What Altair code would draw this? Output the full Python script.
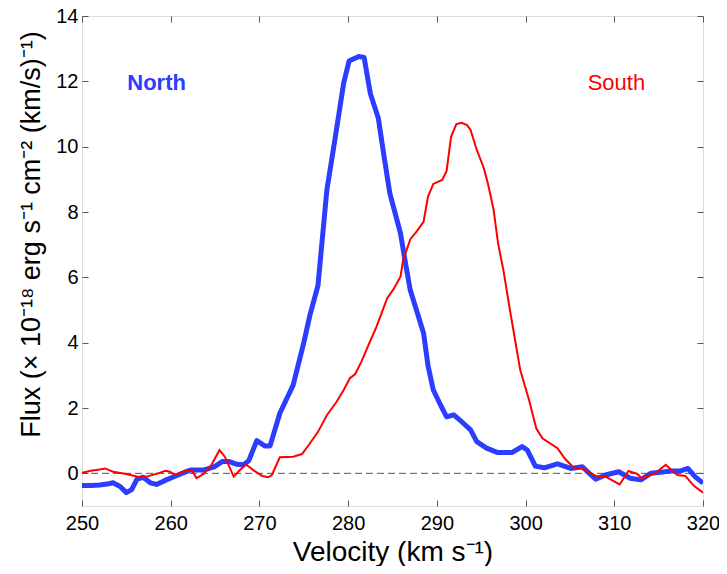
import altair as alt
import pandas as pd

# North (thick blue) spectrum
north_v = [250.0, 251.0, 252.0, 253.0, 253.5, 254.3, 255.0, 255.6, 256.2, 256.9,
           257.7, 258.4, 259.5, 261.1, 262.2, 263.7, 264.9, 265.8, 266.6, 267.4,
           268.2, 268.8, 269.7, 270.6, 271.2, 272.3, 273.8, 275.0, 275.7, 276.6,
           277.6, 278.5, 279.5, 280.1, 281.2, 281.8, 282.5, 283.4, 284.0, 284.7,
           285.9, 286.4, 287.0, 287.7, 288.5, 289.0, 289.6, 290.4, 291.1, 291.9,
           292.8, 293.8, 294.5, 295.6, 296.8, 298.5, 299.6, 300.2, 301.1, 302.1,
           303.6, 305.1, 306.4, 307.9, 309.0, 310.5, 311.8, 313.0, 314.1, 315.2,
           316.3, 317.4, 318.3, 319.1, 320.0]
north_f = [-0.37, -0.37, -0.36, -0.32, -0.29, -0.40, -0.59, -0.50, -0.18, -0.12,
           -0.29, -0.34, -0.20, -0.02, 0.10, 0.10, 0.20, 0.36, 0.36, 0.28,
           0.26, 0.39, 1.00, 0.84, 0.84, 1.84, 2.70, 4.00, 4.85, 5.75,
           8.67, 10.20, 11.95, 12.62, 12.76, 12.73, 11.63, 10.87, 9.79, 8.57,
           7.35, 6.53, 5.61, 5.00, 4.29, 3.30, 2.55, 2.10, 1.73, 1.79,
           1.58, 1.33, 0.97, 0.77, 0.64, 0.64, 0.82, 0.71, 0.22, 0.17,
           0.29, 0.15, 0.20, -0.18, -0.05, 0.05, -0.15, -0.20, 0.00, 0.03,
           0.07, 0.07, 0.15, -0.10, -0.30]

# South (thin red) spectrum
south_v = [250.0, 251.0, 252.0, 252.6, 253.5, 255.0, 256.5, 257.3, 258.6, 259.4,
           259.9, 260.5, 261.8, 262.4, 262.9, 263.7, 264.6, 265.5, 266.1, 267.1,
           267.8, 268.5, 269.3, 270.3, 271.0, 271.4, 272.3, 273.8, 274.8, 275.7,
           276.6, 277.6, 278.7, 279.5, 280.2, 280.8, 281.5, 282.3, 283.2, 284.4,
           285.1, 285.9, 286.2, 287.0, 287.7, 288.5, 289.0, 289.6, 290.6, 291.1,
           291.6, 292.2, 292.8, 293.4, 293.8, 294.5, 295.3, 295.8, 296.4, 296.9,
           297.5, 298.3, 299.4, 300.4, 301.2, 301.9, 303.6, 304.4, 305.5, 306.4,
           307.9, 309.0, 310.6, 311.6, 312.6, 313.1, 314.6, 315.8, 317.1, 318.0,
           319.0, 320.0]
south_f = [0.02, 0.08, 0.12, 0.15, 0.05, -0.02, -0.12, -0.10, 0.00, 0.08,
           0.05, -0.05, 0.10, 0.08, -0.15, -0.02, 0.26, 0.71, 0.51, -0.10,
           0.10, 0.27, 0.10, -0.08, -0.12, -0.05, 0.49, 0.51, 0.59, 0.92,
           1.27, 1.78, 2.19, 2.55, 2.91, 3.04, 3.42, 3.93, 4.49, 5.36,
           5.63, 6.02, 6.53, 7.16, 7.40, 7.70, 8.47, 8.86, 8.98, 9.26,
           10.30, 10.69, 10.73, 10.66, 10.51, 9.90, 9.34, 8.82, 8.06, 7.04,
           6.22, 4.90, 3.16, 2.24, 1.38, 1.07, 0.77, 0.46, 0.15, 0.15,
           -0.08, -0.10, -0.34, 0.07, -0.02, -0.15, 0.00, 0.26, -0.05, -0.08,
           -0.39, -0.59]

x_ticks = [250, 260, 270, 280, 290, 300, 310, 320]
y_ticks = [0, 2, 4, 6, 8, 10, 12, 14]

label_text = ["North", "South"]
label_v = [255.1, 307.0]
label_f = [11.95, 11.95]

BLUE = "#2b3dff"
RED = "#ff0000"
FONT = "Liberation Sans"

north = pd.DataFrame({"v": north_v, "f": north_f})
south = pd.DataFrame({"v": south_v, "f": south_f})
zero = pd.DataFrame({"f": [0]})

xs = alt.Scale(domain=[250, 320], nice=False, zero=False)
ys = alt.Scale(domain=[-1, 14], nice=False, zero=False)

x_bottom = alt.Axis(orient="bottom", values=x_ticks, offset=-6, tickSize=6,
                    domain=False, grid=False, tickColor="#555555",
                    labelFont=FONT, labelFontSize=20, labelColor="black",
                    labelPadding=7, labelFlush=False,
                    title="Velocity (km s\u207b\u00b9)",
                    titleFont=FONT, titleFontSize=28, titleFontWeight="normal",
                    titleColor="black", titlePadding=5)
y_left = alt.Axis(orient="left", values=y_ticks, offset=-6, tickSize=6,
                  domain=False, grid=False, tickColor="#555555",
                  labelFont=FONT, labelFontSize=20, labelColor="black",
                  labelPadding=4, labelFlush=False,
                  title="Flux (\u00d7 10\u207b\u00b9\u2078 erg s\u207b\u00b9 cm\u207b\u00b2 (km/s)\u207b\u00b9)",
                  titleFont=FONT, titleFontSize=27, titleFontWeight="normal",
                  titleColor="black", titlePadding=10, titleY=218)
x_top = alt.Axis(orient="top", values=x_ticks, offset=-6, tickSize=6,
                 domain=False, grid=False, labels=False, title=None,
                 tickColor="#555555")
y_right = alt.Axis(orient="right", values=y_ticks, offset=-6, tickSize=6,
                   domain=False, grid=False, labels=False, title=None,
                   tickColor="#555555")

zero_rule = alt.Chart(zero).mark_rule(color="#555555", strokeWidth=1,
                                      strokeDash=[7, 4]).encode(
    y=alt.Y("f:Q", scale=ys, axis=None)
)

north_line = alt.Chart(north).mark_line(color=BLUE, strokeWidth=5,
                                        clip=True, strokeJoin="round").encode(
    x=alt.X("v:Q", scale=xs, axis=x_bottom),
    y=alt.Y("f:Q", scale=ys, axis=y_left),
    order="v:Q",
)

south_line = alt.Chart(south).mark_line(color=RED, strokeWidth=2,
                                        clip=True).encode(
    x=alt.X("v:Q", scale=xs, axis=x_top),
    y=alt.Y("f:Q", scale=ys, axis=y_right),
    order="v:Q",
)

labels = pd.DataFrame({"t": label_text, "v": label_v, "f": label_f})
north_lbl = alt.Chart(labels[labels.t == "North"]).mark_text(
    align="left", baseline="middle", font=FONT, fontSize=22,
    fontWeight="bold", color=BLUE).encode(
    x=alt.X("v:Q", scale=xs, axis=None),
    y=alt.Y("f:Q", scale=ys, axis=None),
    text="t:N",
)
south_lbl = alt.Chart(labels[labels.t == "South"]).mark_text(
    align="left", baseline="middle", font=FONT, fontSize=22,
    fontWeight="normal", color=RED).encode(
    x=alt.X("v:Q", scale=xs, axis=None),
    y=alt.Y("f:Q", scale=ys, axis=None),
    text="t:N",
)

chart = alt.layer(zero_rule, north_line, south_line, north_lbl, south_lbl).resolve_axis(
    x="independent", y="independent"
).properties(
    width=621, height=490,
    autosize=alt.AutoSizeParams(type="none"),
    padding={"left": 74, "top": 8, "right": 16, "bottom": 60},
).configure_view(
    stroke="#666666", strokeWidth=1
).configure(background="white")

chart.save("out.html", embed_options={"renderer": "svg", "actions": False})
